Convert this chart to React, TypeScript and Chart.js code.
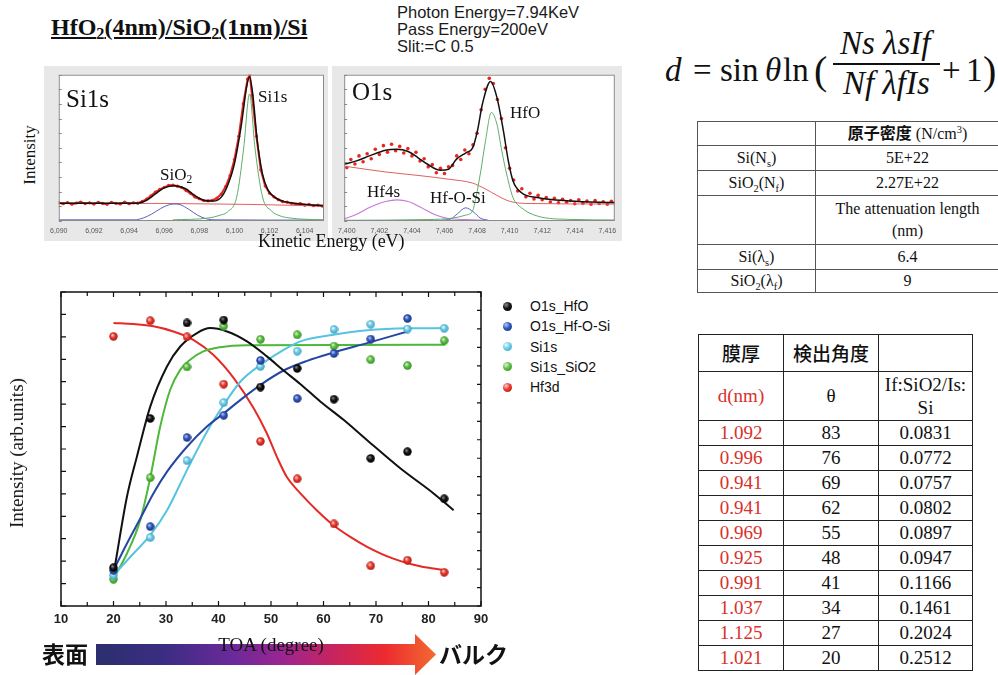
import React, { useEffect, useRef } from "react";
import { Chart, registerables } from "chart.js";
Chart.register(...registerables);

const SERIF = "'Liberation Serif', 'Times New Roman', 'Noto Sans CJK JP', serif";
const SANS = "'Liberation Sans', Arial, sans-serif";
const CJK = "'Noto Sans CJK JP', sans-serif";

// ---------- main chart: intensity vs TOA ----------
const TOA = [20, 27, 34, 41, 48, 55, 62, 69, 76, 83];
const TOA_HFOSI = [20, 27, 34, 41, 48, 55, 62, 69, 76];
const O1S_HFO = [1.71, 8.36, 12.62, 12.75, 9.76, 10.59, 9.22, 6.58, 6.88, 4.78];
const O1S_HFOSI = [1.59, 3.54, 7.51, 8.5, 10.95, 9.25, 11.26, 11.9, 12.82];
const SI1S = [1.37, 3.05, 6.48, 9.07, 10.68, 11.36, 12.33, 12.56, 12.35, 12.38];
const SI1S_SIO2 = [1.19, 5.72, 10.66, 12.48, 11.89, 12.09, 11.59, 10.98, 10.72, 11.83];
const HF3D = [12.02, 12.72, 12.0, 9.89, 7.34, 5.67, 3.66, 1.79, 2.04, 1.5];

// fitted guide curves
const FIT_HFO_X = [20.3, 22.56, 24.46, 27.0, 30.18, 32.72, 35.9, 38.43, 41.61, 45.42, 49.22, 52.4, 55.57, 59.38, 63.82, 68.27, 74.62, 80.97, 84.78];
const FIT_HFO_Y = [1.82, 4.87, 6.66, 8.89, 10.68, 11.57, 12.17, 12.39, 12.24, 11.8, 11.13, 10.5, 9.9, 9.12, 8.3, 7.4, 6.14, 5.02, 4.27];
const FIT_HF3D_X = [20.0, 23.8, 27.6, 31.4, 35.2, 39.0, 42.9, 46.7, 49.2, 51.1, 53.0, 55.6, 58.7, 61.9, 65.1, 68.3, 73.3, 78.4, 83.2];
const FIT_HF3D_Y = [12.62, 12.57, 12.47, 12.24, 11.87, 11.2, 10.16, 8.82, 7.7, 6.66, 5.76, 5.02, 4.27, 3.6, 3.08, 2.64, 2.11, 1.77, 1.59];
const FIT_SIO2_X = [20.0, 22.56, 25.1, 27.0, 28.9, 30.8, 32.7, 34.6, 37.1, 40.3, 45.4, 83.2];
const FIT_SIO2_Y = [1.22, 2.34, 3.83, 5.72, 8.0, 9.64, 10.53, 10.98, 11.35, 11.54, 11.63, 11.65];
const FIT_HFOSI_X = [20.0, 22.56, 25.1, 27.6, 30.2, 34.0, 37.8, 41.0, 44.2, 48.0, 52.4, 56.9, 61.9, 68.3, 76.0];
const FIT_HFOSI_Y = [1.59, 2.79, 3.9, 5.02, 5.99, 7.1, 8.0, 8.59, 9.19, 9.86, 10.5, 10.93, 11.3, 11.72, 12.24];
const FIT_SI1S_X = [20.0, 23.8, 27.0, 30.2, 34.0, 37.8, 41.0, 44.2, 48.0, 52.4, 55.6, 61.9, 68.3, 76.0, 83.2];
const FIT_SI1S_Y = [1.37, 2.34, 3.16, 4.27, 6.06, 7.77, 8.97, 10.01, 10.75, 11.42, 11.8, 12.09, 12.29, 12.38, 12.39];

const X_TICKS = [10, 20, 30, 40, 50, 60, 70, 80, 90];
const LEGEND_NAMES = ["O1s_HfO", "O1s_Hf-O-Si", "Si1s", "Si1s_SiO2", "Hf3d"];

// ---------- Si1s spectrum ----------
const SI_E = [6090, 6090.25, 6090.5, 6090.75, 6091, 6091.25, 6091.5, 6091.75, 6092, 6092.25, 6092.5, 6092.75, 6093, 6093.25, 6093.5, 6093.75, 6094, 6094.25, 6094.5, 6094.75, 6095, 6095.25, 6095.5, 6095.75, 6096, 6096.25, 6096.5, 6096.75, 6097, 6097.25, 6097.5, 6097.75, 6098, 6098.25, 6098.5, 6098.75, 6099, 6099.25, 6099.5, 6099.75, 6100, 6100.25, 6100.5, 6100.75, 6100.875, 6101, 6101.25, 6101.5, 6101.75, 6102, 6102.25, 6102.5, 6102.75, 6103, 6103.25, 6103.5, 6103.75, 6104, 6104.25, 6104.5, 6104.75, 6105];
const SI_MEAS = [12.5, 11.8, 12.6, 11.5, 12.3, 13.0, 11.9, 12.4, 11.6, 12.8, 12.0, 11.4, 12.7, 12.1, 11.7, 12.9, 11.8, 12.4, 12.2, 13.4, 15.0, 17.2, 19.8, 21.6, 23.0, 24.3, 24.6, 23.8, 22.9, 20.8, 18.9, 16.4, 15.2, 14.0, 13.8, 14.2, 15.6, 18.4, 23.5, 31.0, 42.0, 58.0, 80.0, 97.0, 100, 86.0, 58.0, 35.0, 24.0, 19.0, 16.5, 14.6, 13.2, 12.9, 12.1, 11.6, 11.9, 10.8, 11.3, 10.5, 10.9, 10.2];
const SI_FIT_E = [6090, 6094.5, 6095, 6095.5, 6096, 6096.6, 6097.2, 6097.7, 6098.2, 6098.8, 6099.3, 6099.7, 6100, 6100.4, 6100.7, 6100.86, 6101.05, 6101.3, 6101.6, 6101.9, 6102.3, 6102.8, 6103.5, 6105.1];
const SI_FIT = [12.1, 12.2, 14.2, 18.5, 22.6, 24.1, 22.2, 17.8, 14.4, 13.6, 17, 27, 39, 66, 92, 98.6, 86, 55, 32, 21.5, 16.2, 13.4, 11.9, 10.4];
const SI_BG_E = [6090, 6096, 6099, 6101, 6103, 6105.1];
const SI_BG = [12.1, 12.0, 11.6, 11.3, 10.8, 10.2];
const SI_SIO2_E = [6090, 6094.3, 6094.8, 6095.3, 6095.8, 6096.3, 6096.6, 6096.9, 6097.4, 6097.9, 6098.4, 6099, 6105.1];
const SI_SIO2 = [0.8, 0.8, 2, 4.8, 8.5, 11.2, 11.6, 11.2, 8, 4, 1.5, 0.8, 0.6];
const SI_SI_E = [6096.5, 6098.5, 6099.2, 6099.6, 6100.13, 6100.53, 6100.86, 6101.17, 6101.6, 6102.1, 6102.6, 6103.2, 6104, 6105.1];
const SI_SI = [0.8, 2, 4, 6.2, 16.4, 50, 86.8, 50, 16.4, 7, 3.5, 2, 1.2, 0.8];

// ---------- O1s spectrum ----------
const O_E = [7400, 7400.25, 7400.5, 7400.75, 7401, 7401.25, 7401.5, 7401.75, 7402, 7402.25, 7402.5, 7402.75, 7403, 7403.25, 7403.5, 7403.75, 7404, 7404.25, 7404.5, 7404.75, 7405, 7405.25, 7405.5, 7405.75, 7406, 7406.25, 7406.5, 7406.75, 7407, 7407.25, 7407.5, 7407.75, 7408, 7408.25, 7408.5, 7408.75, 7409, 7409.25, 7409.5, 7409.75, 7410, 7410.25, 7410.5, 7410.75, 7411, 7411.25, 7411.5, 7411.75, 7412, 7412.25, 7412.5, 7412.75, 7413, 7413.25, 7413.5, 7413.75, 7414, 7414.25, 7414.5, 7414.75, 7415, 7415.25, 7415.5, 7415.75, 7416, 7416.25, 7416.5];
const O_MEAS = [36.5, 42.0, 39.0, 44.5, 40.5, 46.0, 42.5, 49.0, 45.5, 51.5, 47.0, 52.5, 48.0, 51.0, 46.5, 49.5, 44.5, 47.0, 41.0, 42.5, 37.0, 38.5, 33.0, 36.0, 32.5, 37.0, 38.0, 44.5, 42.0, 48.5, 46.0, 52.0, 60.0, 76.0, 90.0, 97.5, 94.0, 83.0, 70.0, 50.0, 36.0, 28.0, 20.5, 22.0, 16.5, 19.0, 15.0, 17.5, 14.5, 16.0, 13.0, 15.5, 12.5, 14.8, 12.8, 14.0, 11.8, 14.5, 12.2, 13.6, 11.5, 14.0, 12.0, 13.2, 11.4, 13.5, 12.4];
const O_FIT_E = [7399.84, 7400.6, 7401.39, 7402.38, 7403.08, 7403.77, 7404.36, 7404.96, 7405.75, 7406.25, 7406.74, 7407.34, 7407.73, 7408.03, 7408.33, 7408.83, 7409.22, 7409.62, 7409.92, 7410.21, 7410.71, 7411.7, 7413.68, 7416.46];
const O_FIT = [38.8, 41.1, 44.5, 48.4, 49.1, 47.5, 43.4, 38.8, 34.7, 35.4, 42.3, 46.8, 50, 62, 80, 95.4, 84.5, 61.6, 41.1, 27.4, 19.5, 16, 13.7, 12.6];
const O_BG_E = [7399.84, 7402.4, 7404.5, 7406.3, 7407.7, 7408.5, 7409.3, 7410, 7411, 7416.46];
const O_BG = [37.5, 33.5, 31, 28.5, 26, 22, 17, 13.5, 12, 11.6];
const O_HF4S_E = [7399.84, 7400.6, 7401.39, 7402.38, 7403.1, 7403.77, 7404.56, 7405.35, 7406.15, 7407.34, 7408.5];
const O_HF4S = [1.4, 4.6, 9.2, 13.3, 14.4, 13.3, 9.2, 4.6, 1.9, 0.9, 0.5];
const O_HFOSI_E = [7405.8, 7406.4, 7406.8, 7407.3, 7407.8, 7408.2, 7408.7];
const O_HFOSI = [0.5, 1.5, 5, 9, 6, 2, 0.5];
const O_HFO_E = [7399.84, 7405, 7406.5, 7407.3, 7407.73, 7407.93, 7408.23, 7408.52, 7408.88, 7409.22, 7409.52, 7409.82, 7410.21, 7410.71, 7411.7, 7413.7, 7416.46];
const O_HFO = [0.5, 1, 2, 4, 7, 16, 34.2, 54.8, 74.2, 66.2, 47.9, 32, 16, 9.2, 3.4, 1.1, 0.7];

// ---------- tables ----------
const DENSITY_ROWS = [
  ["Si(N<sub>s</sub>)", "5E+22"],
  ["SiO<sub>2</sub>(N<sub>f</sub>)", "2.27E+22"],
];
const ATT_ROWS = [
  ["Si(λ<sub>s</sub>)", "6.4"],
  ["SiO<sub>2</sub>(λ<sub>f</sub>)", "9"],
];
const D_NM = ["1.092", "0.996", "0.941", "0.941", "0.969", "0.925", "0.991", "1.037", "1.125", "1.021"];
const THETA = ["83", "76", "69", "62", "55", "48", "41", "34", "27", "20"];
const RATIO = ["0.0831", "0.0772", "0.0757", "0.0802", "0.0897", "0.0947", "0.1166", "0.1461", "0.2024", "0.2512"];

const BALLS = [
  { base: "#111111", light: "#8a8a8a", dark: "#000000", line: "#111111" },
  { base: "#2f56b8", light: "#b3c7ff", dark: "#1b2f75", line: "#2546a2" },
  { base: "#6ccbe6", light: "#eefcff", dark: "#3a9cbb", line: "#55c4e0" },
  { base: "#5cbd43", light: "#dcf7cc", dark: "#2f8a23", line: "#4db83a" },
  { base: "#e8382e", light: "#ffd0c8", dark: "#a8150f", line: "#e52a26" },
];

function pairs(xs: number[], ys: number[]) {
  return ys.map((y, i) => ({ x: xs[i], y }));
}

function ballImage(b: { base: string; light: string; dark: string }) {
  const c = document.createElement("canvas");
  c.width = 9;
  c.height = 9;
  const g = c.getContext("2d")!;
  const grd = g.createRadialGradient(3.3, 3.0, 0.3, 4.5, 4.5, 4.6);
  grd.addColorStop(0, b.light);
  grd.addColorStop(0.45, b.base);
  grd.addColorStop(1, b.dark);
  g.fillStyle = grd;
  g.beginPath();
  g.arc(4.5, 4.5, 4.2, 0, Math.PI * 2);
  g.fill();
  return c;
}

const mainFrame = {
  id: "mainFrame",
  afterDatasetsDraw(chart: any) {
    const { ctx, chartArea: a, scales } = chart;
    ctx.save();
    ctx.strokeStyle = "#111";
    ctx.lineWidth = 1.5;
    ctx.strokeRect(a.left, a.top, a.right - a.left, a.bottom - a.top);
    ctx.lineWidth = 1.2;
    ctx.beginPath();
    for (let v = 10; v <= 90; v += 5) {
      const px = scales.x.getPixelForValue(v);
      const L = v % 10 === 0 ? 5 : 4;
      ctx.moveTo(px, a.bottom);
      ctx.lineTo(px, a.bottom - L);
      ctx.moveTo(px, a.top);
      ctx.lineTo(px, a.top + L);
    }
    for (let v = 0; v <= 14; v++) {
      const py = scales.y.getPixelForValue(v);
      ctx.moveTo(a.left, py);
      ctx.lineTo(a.left + 5, py);
    }
    for (let v = 0; v <= 17; v++) {
      const py = scales.y2.getPixelForValue(v);
      ctx.moveTo(a.right, py);
      ctx.lineTo(a.right - 4, py);
    }
    ctx.stroke();
    ctx.restore();
  },
};

const specFrame = {
  id: "specFrame",
  beforeDatasetsDraw(chart: any) {
    const { ctx, chartArea: a } = chart;
    ctx.save();
    ctx.fillStyle = "#ffffff";
    ctx.fillRect(a.left, a.top, a.right - a.left, a.bottom - a.top);
    ctx.restore();
  },
  afterDatasetsDraw(chart: any) {
    const { ctx, chartArea: a, scales } = chart;
    ctx.save();
    ctx.strokeStyle = "#8a8a8a";
    ctx.lineWidth = 1;
    ctx.strokeRect(a.left + 0.5, a.top + 0.5, a.right - a.left - 1, a.bottom - a.top - 1);
    ctx.beginPath();
    for (let v = 0; v <= 100; v += 10) {
      const py = Math.round(scales.y.getPixelForValue(v)) + 0.5;
      ctx.moveTo(a.left, py);
      ctx.lineTo(a.left + 3, py);
    }
    ctx.stroke();
    ctx.restore();
  },
};

function line(xs: number[], ys: number[], color: string, width: number) {
  return {
    data: pairs(xs, ys),
    showLine: true,
    borderColor: color,
    backgroundColor: color,
    borderWidth: width,
    pointRadius: 0,
    cubicInterpolationMode: "monotone",
    fill: false,
  };
}

function specOptions(min: number, max: number, padding: any) {
  return {
    animation: false,
    responsive: false,
    events: [],
    layout: { padding },
    plugins: { legend: { display: false }, tooltip: { enabled: false } },
    scales: {
      x: {
        type: "linear",
        min,
        max,
        grid: { display: false, drawTicks: false },
        border: { display: false },
        ticks: {
          stepSize: 2,
          includeBounds: false,
          maxRotation: 0,
          autoSkip: false,
          padding: 6,
          color: "#555",
          font: { family: SANS, size: 7 },
          callback: (v: number) => Number(v).toLocaleString("en-US"),
        },
        afterFit: (s: any) => {
          s.height = 21;
        },
      },
      y: { display: false, min: 0, max: 100 },
    },
  };
}

export default function App() {
  const mainRef = useRef<HTMLCanvasElement>(null);
  const siRef = useRef<HTMLCanvasElement>(null);
  const oRef = useRef<HTMLCanvasElement>(null);

  useEffect(() => {
    const imgs = BALLS.map(ballImage);
    const pts = (xs: number[], ys: number[], i: number, label: string) => ({
      label,
      data: pairs(xs, ys),
      showLine: false,
      pointStyle: imgs[i],
      pointRadius: 4.5,
      borderColor: BALLS[i].base,
      backgroundColor: BALLS[i].base,
    });
    const main = new Chart(mainRef.current!, {
      type: "scatter",
      data: {
        datasets: [
          pts(TOA, O1S_HFO, 0, LEGEND_NAMES[0]),
          pts(TOA_HFOSI, O1S_HFOSI, 1, LEGEND_NAMES[1]),
          pts(TOA, SI1S, 2, LEGEND_NAMES[2]),
          pts(TOA, SI1S_SIO2, 3, LEGEND_NAMES[3]),
          pts(TOA, HF3D, 4, LEGEND_NAMES[4]),
          line(FIT_HFO_X, FIT_HFO_Y, BALLS[0].line, 2),
          line(FIT_HFOSI_X, FIT_HFOSI_Y, BALLS[1].line, 2),
          line(FIT_SI1S_X, FIT_SI1S_Y, BALLS[2].line, 2),
          line(FIT_SIO2_X, FIT_SIO2_Y, BALLS[3].line, 2),
          line(FIT_HF3D_X, FIT_HF3D_Y, BALLS[4].line, 2),
        ] as any,
      },
      options: {
        animation: false,
        responsive: false,
        events: [],
        layout: { padding: { left: 61, right: 19, top: 12, bottom: 14 } },
        plugins: { legend: { display: false }, tooltip: { enabled: false } },
        scales: {
          x: {
            type: "linear",
            min: 10,
            max: 90,
            grid: { display: false, drawTicks: false },
            border: { display: false },
            afterBuildTicks: (s: any) => {
              s.ticks = X_TICKS.map((v) => ({ value: v }));
            },
            ticks: {
              maxRotation: 0,
              autoSkip: false,
              padding: 6,
              color: "#222",
              font: { family: SANS, size: 13, weight: "bold" },
            },
            afterFit: (s: any) => {
              s.height = 30;
            },
          },
          y: { display: false, min: 0, max: 14 },
          y2: { display: false, min: 0, max: 17, position: "right" },
        },
      } as any,
      plugins: [mainFrame],
    });

    const si = new Chart(siRef.current!, {
      type: "scatter",
      data: {
        datasets: [
          line(SI_FIT_E, SI_FIT, "#111", 1.5),
          line(SI_SI_E, SI_SI, "#5fae6a", 1),
          line(SI_SIO2_E, SI_SIO2, "#5a62c0", 1),
          line(SI_BG_E, SI_BG, "#e06060", 1),
          {
            data: pairs(SI_E, SI_MEAS),
            showLine: true,
            borderColor: "#e8251f",
            backgroundColor: "#e8251f",
            borderWidth: 2,
            pointRadius: 1.6,
            pointBorderWidth: 0,
          },
        ] as any,
      },
      options: specOptions(6090, 6105.1, { left: 4, right: 1.3, top: 8.7, bottom: 0 }) as any,
      plugins: [specFrame],
    });

    const o = new Chart(oRef.current!, {
      type: "scatter",
      data: {
        datasets: [
          line(O_FIT_E, O_FIT, "#111", 1.5),
          line(O_HFO_E, O_HFO, "#5fae6a", 1),
          line(O_HFOSI_E, O_HFOSI, "#5a62c0", 1),
          line(O_HF4S_E, O_HF4S, "#c77ad6", 1.2),
          line(O_BG_E, O_BG, "#e06060", 1),
          {
            data: pairs(O_E, O_MEAS),
            showLine: false,
            borderColor: "#e8251f",
            backgroundColor: "#e8251f",
            pointRadius: 1.8,
            pointBorderWidth: 0,
          },
        ] as any,
      },
      options: specOptions(7399.84, 7416.46, { left: 5.3, right: 4.7, top: 8.7, bottom: 0 }) as any,
      plugins: [specFrame],
    });

    return () => {
      main.destroy();
      si.destroy();
      o.destroy();
    };
  }, []);

  const abs = (left: number, top: number, extra: any = {}): React.CSSProperties => ({
    position: "absolute",
    left,
    top,
    whiteSpace: "nowrap",
    ...extra,
  });
  const sub: React.CSSProperties = { fontSize: "0.68em", verticalAlign: "-0.25em", lineHeight: 0 };
  const cell1: React.CSSProperties = {
    border: "1px solid #555",
    padding: 0,
    textAlign: "center",
    fontFamily: SERIF,
    fontSize: 16,
    lineHeight: "22px",
    color: "#111",
  };
  const cell2: React.CSSProperties = {
    border: "1.5px solid #222",
    padding: 0,
    textAlign: "center",
    fontFamily: SERIF,
    fontSize: 19,
    lineHeight: "22px",
    color: "#111",
    height: 24,
  };
  const RED = "#d8312b";
  const F = (left: number, top: number, size: number, italic: boolean) =>
    abs(left, top, { fontSize: size, lineHeight: size + "px", fontStyle: italic ? "italic" : "normal" });

  return (
    <div
      style={{
        position: "absolute",
        left: 0,
        top: 0,
        width: 998,
        height: 675,
        background: "#fff",
        overflow: "hidden",
        fontFamily: SERIF,
        color: "#111",
      }}
    >
      {/* title */}
      <div style={abs(51, 13, { fontSize: 24, fontWeight: "bold", textDecoration: "underline", lineHeight: "28px" })}>
        HfO<span style={sub}>2</span>(4nm)/SiO<span style={sub}>2</span>(1nm)/Si
      </div>
      <div style={abs(397, 4, { fontFamily: SANS, fontSize: 16.5, lineHeight: "17px", color: "#1a1a1a" })}>
        Photon Energy=7.94KeV
        <br />
        Pass Energy=200eV
        <br />
        Slit:=C 0.5
      </div>

      {/* spectra panels */}
      <div style={abs(44, 66, { width: 284, height: 175, background: "#e8e8e8" })} />
      <div style={abs(332, 66, { width: 290, height: 175, background: "#e8e8e8" })} />
      <canvas ref={siRef} width={284} height={176} style={abs(44, 66)} />
      <canvas ref={oRef} width={290} height={176} style={abs(332, 66)} />
      <div style={abs(30, 155, { fontSize: 17, transform: "translate(-50%, -50%) rotate(-90deg)" })}>Intensity</div>
      <div style={abs(258, 230, { fontSize: 18, lineHeight: "22px" })}>Kinetic Energy (eV)</div>
      <div style={abs(66, 86, { fontSize: 25, lineHeight: "25px" })}>Si1s</div>
      <div style={abs(258, 88, { fontSize: 17, lineHeight: "17px" })}>Si1s</div>
      <div style={abs(160, 166, { fontSize: 17, lineHeight: "17px" })}>
        SiO<span style={sub}>2</span>
      </div>
      <div style={abs(352, 79, { fontSize: 25, lineHeight: "25px" })}>O1s</div>
      <div style={abs(510, 104, { fontSize: 17, lineHeight: "17px" })}>HfO</div>
      <div style={abs(367, 183, { fontSize: 17, lineHeight: "17px" })}>Hf4s</div>
      <div style={abs(430, 189, { fontSize: 17, lineHeight: "17px" })}>Hf-O-Si</div>

      {/* formula */}
      <div style={F(665, 54, 33, true)}>d</div>
      <div style={F(693, 54, 33, false)}>=</div>
      <div style={F(720, 54, 33, false)}>sin</div>
      <div style={F(765, 54, 33, true)}>θ</div>
      <div style={F(783, 54, 33, false)}>ln</div>
      <div style={F(814, 51, 40, false)}>(</div>
      <div style={F(840, 27, 33, true)}>Ns λsIf</div>
      <div style={abs(833, 63, { width: 107, height: 1.6, background: "#111" })} />
      <div style={F(843, 67, 33, true)}>Nf λfIs</div>
      <div style={F(942, 54, 33, false)}>+</div>
      <div style={F(966, 54, 33, false)}>1</div>
      <div style={F(983, 51, 40, false)}>)</div>

      {/* table 1 */}
      <table
        style={{
          position: "absolute",
          left: 697,
          top: 121,
          width: 302,
          borderCollapse: "collapse",
          tableLayout: "fixed",
        }}
      >
        <colgroup>
          <col style={{ width: 118 }} />
          <col style={{ width: 184 }} />
        </colgroup>
        <tbody>
          <tr style={{ height: 24 }}>
            <td style={cell1}></td>
            <td style={{ ...cell1, fontWeight: "bold" }}>
              原子密度 <span style={{ fontWeight: "normal" }}>(N/cm<sup style={{ fontSize: "0.65em", lineHeight: 0 }}>3</sup>)</span>
            </td>
          </tr>
          {DENSITY_ROWS.map((r, i) => (
            <tr key={"d" + i} style={{ height: 25 }}>
              <td style={cell1} dangerouslySetInnerHTML={{ __html: r[0].replace(/<sub>/g, "<sub style='font-size:0.65em;line-height:0'>") }} />
              <td style={cell1}>{r[1]}</td>
            </tr>
          ))}
          <tr style={{ height: 49 }}>
            <td style={cell1}></td>
            <td style={cell1}>
              The attenuation length
              <br />
              (nm)
            </td>
          </tr>
          {ATT_ROWS.map((r, i) => (
            <tr key={"a" + i} style={{ height: i === 0 ? 25 : 21 }}>
              <td style={cell1} dangerouslySetInnerHTML={{ __html: r[0].replace(/<sub>/g, "<sub style='font-size:0.65em;line-height:0'>") }} />
              <td style={cell1}>{r[1]}</td>
            </tr>
          ))}
        </tbody>
      </table>

      {/* table 2 */}
      <table
        style={{
          position: "absolute",
          left: 698,
          top: 334,
          width: 274,
          borderCollapse: "collapse",
          tableLayout: "fixed",
        }}
      >
        <colgroup>
          <col style={{ width: 85 }} />
          <col style={{ width: 95 }} />
          <col style={{ width: 94 }} />
        </colgroup>
        <tbody>
          <tr style={{ height: 37 }}>
            <td style={{ ...cell2, fontFamily: CJK, fontWeight: 500 }}>膜厚</td>
            <td style={{ ...cell2, fontFamily: CJK, fontWeight: 500 }}>検出角度</td>
            <td style={cell2}></td>
          </tr>
          <tr style={{ height: 49 }}>
            <td style={{ ...cell2, color: RED }}>d(nm)</td>
            <td style={cell2}>θ</td>
            <td style={{ ...cell2, lineHeight: "23px" }}>
              If:SiO2/Is:
              <br />
              Si
            </td>
          </tr>
          {D_NM.map((d, i) => (
            <tr key={"r" + i} style={{ height: 24 }}>
              <td style={{ ...cell2, color: RED }}>{d}</td>
              <td style={cell2}>{THETA[i]}</td>
              <td style={cell2}>{RATIO[i]}</td>
            </tr>
          ))}
        </tbody>
      </table>

      {/* main chart */}
      <canvas ref={mainRef} width={500} height={370} style={abs(0, 280)} />
      <div style={abs(16.5, 453, { fontSize: 19, transform: "translate(-50%, -50%) rotate(-90deg)" })}>
        Intensity (arb.units)
      </div>

      {/* legend */}
      {LEGEND_NAMES.map((n, i) => (
        <div key={n} style={abs(502, 296 + i * 20.3, { height: 20, display: "flex", alignItems: "center" })}>
          <div
            style={{
              width: 9,
              height: 9,
              borderRadius: "50%",
              background: `radial-gradient(circle at 35% 32%, ${BALLS[i].light} 0%, ${BALLS[i].base} 45%, ${BALLS[i].dark} 100%)`,
              marginLeft: 1,
            }}
          />
          <span style={{ fontFamily: SANS, fontSize: 14, marginLeft: 18, color: "#111" }}>{n}</span>
        </div>
      ))}

      {/* surface → bulk arrow */}
      <div
        style={abs(96, 634, {
          width: 340,
          height: 41,
          background:
            "linear-gradient(90deg, #2b2f6e 0%, #3b2d82 20%, #6a2a9a 40%, #9b2590 55%, #c8245e 70%, #ec2b30 85%, #f26a30 100%)",
          clipPath: "polygon(0 10px, 319px 10px, 319px 0, 340px 20.5px, 319px 41px, 319px 31px, 0 31px)",
        })}
      />
      <div style={abs(271, 645, { fontSize: 19, transform: "translate(-50%, -50%)" })}>TOA (degree)</div>
      <div style={abs(42, 638, { fontFamily: CJK, fontSize: 23, fontWeight: 700, lineHeight: "30px" })}>表面</div>
      <div style={abs(439, 638, { fontFamily: CJK, fontSize: 23, fontWeight: 700, lineHeight: "30px" })}>バルク</div>
    </div>
  );
}
